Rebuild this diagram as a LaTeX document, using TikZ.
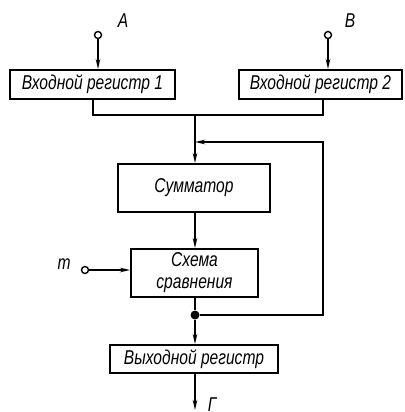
\documentclass[tikz,border=0pt]{standalone}
\usepackage{fontspec}
\setmainfont{Liberation Sans}[FakeStretch=0.78]
\usetikzlibrary{positioning,arrows.meta}

\begin{document}
\begin{tikzpicture}[x=1pt,y=-1pt,line width=1.9pt,
  font=\itshape\fontsize{20}{22}\selectfont,
  >={Stealth[length=10pt,width=4.5pt]},
  blk/.style={draw,inner sep=0pt,minimum height=#1},
  term/.style={draw,circle,line width=1.4pt,minimum size=7pt,inner sep=0pt,fill=white},
  lbl/.style={inner sep=0pt}]
  \useasboundingbox (0,0) rectangle (404,412);

  % --- input registers ---
  \node[blk=29pt,minimum width=165pt] (reg1) at (92.5,84.5) {Входной регистр 1};
  \node[blk=29pt,minimum width=163pt] (reg2) at (320.5,84.5) {Входной регистр 2};
  \node[term] (inA) at (98,35) {};
  \node[term] (inB) at (328,35) {};
  \node[lbl] (labA) at (123,21) {A};
  \node[lbl] (labB) at (350,21) {B};
  \draw[->] (inA) -- (reg1.north -| inA);
  \draw[->] (inB) -- (reg2.north -| inB);

  % --- adder and comparator ---
  \node[blk=48pt,minimum width=152pt] (summ) at (194,188) {Сумматор};
  \node[blk=48pt,minimum width=127pt,align=center] (cmp) at (194.5,273)
    {Схема\\сравнения};
  \node[term] (inM) at (85,270) {};
  \node[lbl] (labM) at (64,264) {m};
  \draw[->] (inM) -- (cmp.west |- inM);

  % --- output register ---
  \node[blk=28pt,minimum width=168pt] (outreg) at (194,359) {Выходной регистр};
  \node[lbl,anchor=north west] (labG) at (207,397) {Г};

  % junctions
  \coordinate (bus) at (195,115);
  \coordinate (fbin) at (195,142);
  \coordinate (fbtop) at (323,142);
  \coordinate (fbbot) at (323,315);
  \coordinate (outG) at (195,410);
  \node[circle,fill,inner sep=0pt,minimum size=9pt] (dot) at (195,315) {};

  % bus from input registers
  \draw (reg1.south -| 93,0) |- (bus) -| (reg2.south -| 323,0);
  \draw[->] (bus) -- (summ.north -| bus);
  \draw[->] (summ.south -| bus) -- (cmp.north -| bus);
  \draw (cmp.south -| bus) -- (dot);
  \draw[->] (dot) -- (outreg.north -| dot);
  \draw[->] (outreg.south -| outG) -- (outG);
  % feedback loop
  \draw[->] (dot) -- (fbbot) -- (fbtop) -- (fbin);
\end{tikzpicture}
\end{document}
